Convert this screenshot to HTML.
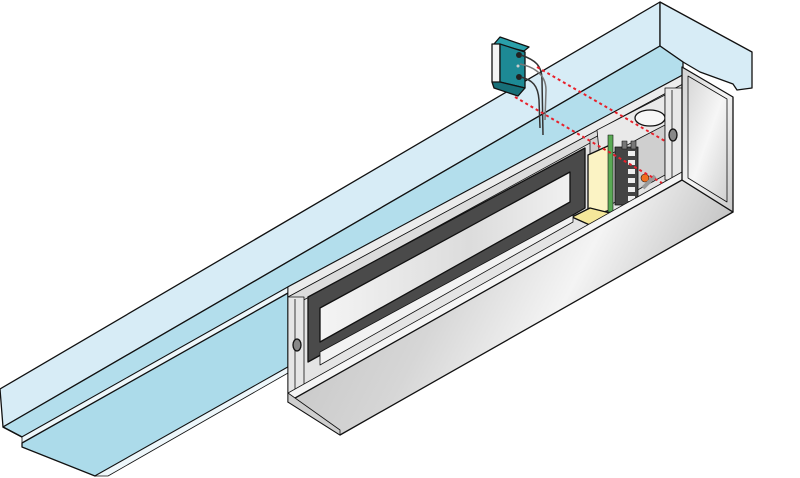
<!DOCTYPE html>
<html><head><meta charset="utf-8"><style>html,body{margin:0;padding:0;background:#fff;width:800px;height:478px;overflow:hidden}svg{display:block}</style></head><body>
<svg width="800" height="478" viewBox="0 0 800 478" xmlns="http://www.w3.org/2000/svg">
<defs>
<linearGradient id="fr" x1="0" y1="0" x2="1" y2="0.3">
<stop offset="0" stop-color="#bdbdbd"/><stop offset="0.45" stop-color="#d6d6d6"/><stop offset="0.7" stop-color="#f4f4f4"/><stop offset="1" stop-color="#bcbcbc"/></linearGradient>
<linearGradient id="ep" x1="0" y1="0" x2="1" y2="1">
<stop offset="0" stop-color="#d0d0d0"/><stop offset="0.5" stop-color="#f6f6f6"/><stop offset="1" stop-color="#c8c8c8"/></linearGradient>
<linearGradient id="win" x1="0" y1="0" x2="1" y2="0">
<stop offset="0" stop-color="#f4f4f4"/><stop offset="0.6" stop-color="#dcdcdc"/><stop offset="1" stop-color="#f0f0f0"/></linearGradient>
</defs>
<g stroke="#111" stroke-width="1.3" stroke-linejoin="round">
<!-- rail -->
<polygon points="0,389 660,2 660,46 3,427" fill="#d7ecf6"/>
<polygon points="660,2 752,52 752,88 737,90 733,84 700,72 683,62 660,46" fill="#d7ecf6"/>
<polygon points="3,427 660,46 683,62 683,75 288,287 22,437" fill="#b3deec"/>
<polygon points="22,437 288,287 288,293 22,443" fill="#eef7fb" stroke-width="0.8"/>
<polygon points="22,443 288,293 288,367 95,476 22,447" fill="#acdbea"/>
<polygon points="95,476 288,367 288,373 108,476" fill="#eef7fb" stroke-width="0.8"/>
<line x1="3" y1="427" x2="22" y2="437"/>
<!-- box interior -->
<polygon points="288,287 683,75 682,180 288,402" fill="#e4e4e4"/>
<polygon points="288,287 683,75 683,84 288,297" fill="#ececec" stroke-width="0.8"/>
<polygon points="288,297 683,84 683,92 300,302" fill="#dcdcdc" stroke-width="0.8"/>
<!-- right compartment -->
<polygon points="590,140 665,100 665,175 610,205 590,215" fill="#cfcfcf" stroke-width="0.8"/>
<polygon points="597,130 665,95 665,125 640,138 600,160" fill="#e9e9e9" stroke-width="0.8"/>
<ellipse cx="650" cy="118" rx="15" ry="8" fill="#f7f7f7"/>
<rect x="665" y="88" width="17" height="92" fill="#e8e8e8" stroke-width="0.8"/>
<line x1="672" y1="90" x2="672" y2="178" stroke-width="0.8"/>
<ellipse cx="673" cy="135" rx="4" ry="6" fill="#888"/>
<!-- yellow block -->
<polygon points="588,155 610,145 610,210 588,217" fill="#fbf3c4"/>
<polygon points="572,217 590,208 610,213 592,226" fill="#f5e89a"/>
<!-- green board & terminals -->
<rect x="608" y="135" width="5" height="77" fill="#5aaa55" stroke-width="0.6"/>
<rect x="615" y="147" width="23" height="58" fill="#444" stroke-width="0.8"/>
<g fill="#eee" stroke="none">
<rect x="628" y="151" width="7" height="5"/><rect x="628" y="160" width="7" height="5"/><rect x="628" y="169" width="7" height="5"/><rect x="628" y="178" width="7" height="5"/><rect x="628" y="187" width="7" height="5"/><rect x="628" y="196" width="7" height="5"/></g>
<rect x="622" y="141" width="5" height="8" fill="#777" stroke-width="0.6"/>
<rect x="631" y="141" width="5" height="8" fill="#777" stroke-width="0.6"/>
<circle cx="645" cy="178" r="4" fill="#f07020" stroke-width="0.6"/>
<line x1="643" y1="188" x2="655" y2="176" stroke="#999" stroke-width="4"/>
<!-- left end frame -->
<rect x="288" y="297" width="16" height="103" fill="#e6e6e6" stroke-width="0.8"/>
<line x1="295" y1="299" x2="295" y2="398" stroke-width="0.8"/>
<ellipse cx="297" cy="345" rx="4" ry="6" fill="#888"/>
<!-- magnet -->
<polygon points="308,297 585,148 585,208 573,215 308,362" fill="#4a4a4a"/>
<polygon points="320,308 570,172 570,202 320,342" fill="url(#win)"/>
<polygon points="320,352 573,215 573,222 320,365" fill="#f2f2f2" stroke-width="0.8"/>
<!-- lip & front -->
<polygon points="288,393 682,172 682,180 288,402" fill="#f5f5f5" stroke-width="0.8"/>
<polygon points="288,402 682,180 733,212 340,435" fill="url(#fr)"/>
<polygon points="288,393 288,402 340,435 340,430" fill="#cfcfcf" stroke-width="0.8"/>
<polygon points="682,67 733,97 733,212 682,180" fill="url(#ep)"/>
<polygon points="688,76 727,99 727,202 688,178" fill="none" stroke-width="0.8"/>
<!-- sensor -->
<polygon points="494,44 500,37 529,47 524,51" fill="#2aa0aa"/>
<polygon points="492,44 500,44 500,84 492,82" fill="#f4f4f4"/>
<polygon points="500,44 525,52 525,88 500,82" fill="#1d8a95"/>
<polygon points="492,82 500,82 525,88 518,96 494,88" fill="#176f78"/>
<circle cx="519" cy="55" r="3" fill="#222" stroke="none"/>
<circle cx="519" cy="77" r="3" fill="#222" stroke="none"/>
<circle cx="518" cy="66" r="1.5" fill="#ccc" stroke="none"/>
</g>
<g fill="none" stroke="#333" stroke-width="1.5">
<path d="M521,55 C535,60 542,65 542,80 L543,135"/>
<path d="M521,77 C532,80 538,85 539,100 L540,128"/>
<path d="M520,64 C530,66 546,72 546,90 L545,120" stroke="#777"/>
</g>
<g stroke="#e8202a" stroke-width="2" stroke-dasharray="3 3" fill="none">
<line x1="537" y1="67" x2="665" y2="141"/>
<line x1="515" y1="97" x2="662" y2="183"/>
</g>
</svg>
</body></html>
